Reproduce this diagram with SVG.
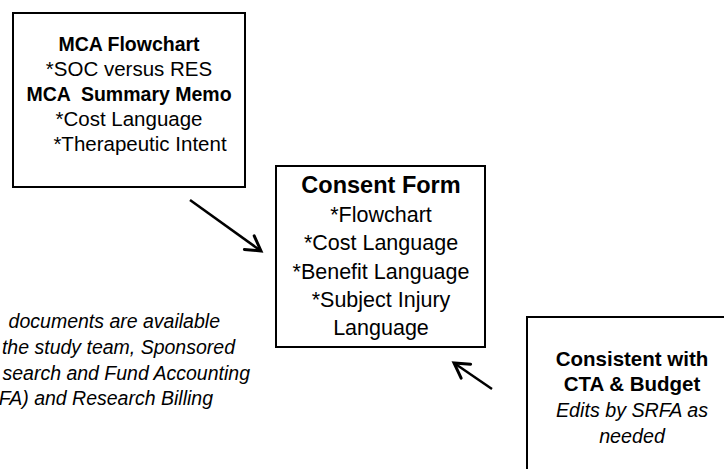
<svg xmlns="http://www.w3.org/2000/svg" width="724" height="469" viewBox="0 0 724 469">
<style>
.box{fill:#fff;stroke:#000;stroke-width:2}
.t{font-family:"Liberation Sans",Arial,sans-serif;fill:#000;text-anchor:middle}
.b{font-weight:bold}
.i{font-style:italic}
.conn{stroke:#000;stroke-width:2.5;fill:none}
</style>
<defs>
<marker id="ah" markerUnits="userSpaceOnUse" markerWidth="24" markerHeight="24" refX="0" refY="0" viewBox="-14 -10 16 20" orient="auto">
<path d="M-12,-7 L0,0 L-12,7" fill="none" stroke="#000" stroke-width="2.5" stroke-linecap="round" stroke-linejoin="miter"/>
</marker>
</defs>
<g id="mca">
<rect class="box" x="13" y="13" width="232" height="174"/>
<text class="t b" x="129" y="51" font-size="19.5">MCA Flowchart</text>
<text class="t" x="129" y="76" font-size="20.5">*SOC versus RES</text>
<text class="t b" x="129" y="101" font-size="19.5" xml:space="preserve">MCA  Summary Memo</text>
<text class="t" x="129" y="126" font-size="20.5">*Cost Language</text>
<text class="t" x="140" y="151" font-size="20.5">*Therapeutic Intent</text>
</g>
<g id="consent">
<rect class="box" x="276" y="166" width="209" height="181"/>
<text class="t b" x="381" y="193" font-size="23.5">Consent Form</text>
<text class="t" x="381" y="222" font-size="21.5">*Flowchart</text>
<text class="t" x="381" y="250" font-size="21.5">*Cost Language</text>
<text class="t" x="381" y="279" font-size="21.5">*Benefit Language</text>
<text class="t" x="381" y="307" font-size="21.5">*Subject Injury</text>
<text class="t" x="381" y="335" font-size="21.5">Language</text>
</g>
<g id="cta">
<rect class="box" x="527" y="317" width="210" height="170"/>
<text class="t b" x="632" y="366" font-size="20.5">Consistent with</text>
<text class="t b" x="632" y="391" font-size="20.5">CTA &amp; Budget</text>
<text class="t i" x="632" y="417" font-size="19.7">Edits by SRFA as</text>
<text class="t i" x="632" y="443" font-size="19.7">needed</text>
</g>
<g id="note">
<text class="t i" style="text-anchor:end" x="220" y="328" font-size="19.5">documents are available</text>
<text class="t i" style="text-anchor:end" x="235" y="354" font-size="19.5">the study team, Sponsored</text>
<text class="t i" style="text-anchor:end" x="250" y="380" font-size="19.5">search and Fund Accounting</text>
<text class="t i" style="text-anchor:end" x="213" y="405" font-size="19.5">FA) and Research Billing</text>
</g>
<g id="connectors">
<line class="conn" x1="190" y1="200" x2="261" y2="251" marker-end="url(#ah)"/>
<line class="conn" x1="492" y1="389" x2="454" y2="363" marker-end="url(#ah)"/>
</g>
</svg>
